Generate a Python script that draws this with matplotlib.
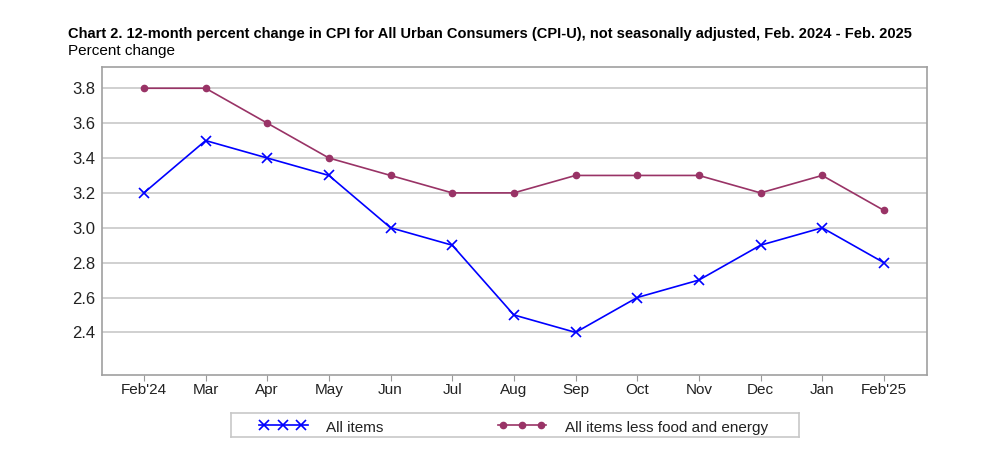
import matplotlib.pyplot as plt
from matplotlib.lines import Line2D

months = ["Feb'24", 'Mar', 'Apr', 'May', 'Jun', 'Jul', 'Aug', 'Sep', 'Oct',
          'Nov', 'Dec', 'Jan', "Feb'25"]
all_items = [3.2, 3.5, 3.4, 3.3, 3.0, 2.9, 2.5, 2.4, 2.6, 2.7, 2.9, 3.0, 2.8]
core = [3.8, 3.8, 3.6, 3.4, 3.3, 3.2, 3.2, 3.3, 3.3, 3.3, 3.2, 3.3, 3.1]
yticks = [2.4, 2.6, 2.8, 3.0, 3.2, 3.4, 3.6, 3.8]

plt.rcParams['font.family'] = ['Liberation Sans', 'DejaVu Sans']

blue = '#0000ff'
maroon = '#993366'

fig = plt.figure(figsize=(10, 4.75), dpi=100)
ax = fig.add_axes([0.102, 0.211, 0.825, 0.648])

x = range(len(months))
ax.plot(x, all_items, color=blue, lw=1.2, marker='x', ms=7, mew=1.2)
ax.plot(x, core, color=maroon, lw=1.2, marker='o', ms=4.5)

ax.set_xlim(-0.68, 12.7)
ax.set_ylim(2.157, 3.922)
ax.set_xticks(list(x))
ax.set_xticklabels(months)
ax.set_yticks(yticks)
ax.set_yticklabels([f'{v:.1f}' for v in yticks])
ax.grid(axis='y', color='#c8c8c8', lw=1.2)
ax.set_axisbelow(True)
ax.tick_params(axis='y', length=0, labelsize=12, pad=5, colors='#222222')
ax.tick_params(axis='x', length=4, color='#999999', labelsize=11, pad=2,
               labelcolor='#222222')
for s in ax.spines.values():
    s.set_color('#a0a0a0')
    s.set_linewidth(1.2)

fig.text(0.068, 0.929, 'Chart 2. 12-month percent change in CPI for All Urban '
         'Consumers (CPI-U), not seasonally adjusted, Feb. 2024 - Feb. 2025',
         fontsize=10.5, fontweight='bold', va='center')
fig.text(0.068, 0.892, 'Percent change', fontsize=11, va='center')

# legend box drawn as a separate axes frame
lax = fig.add_axes([0.231, 0.08, 0.568, 0.051])
lax.set_xlim(0, 568)
lax.set_ylim(0, 24)
lax.set_xticks([])
lax.set_yticks([])
for s in lax.spines.values():
    s.set_color('#c8c8c8')
    s.set_linewidth(1.2)
lax.add_line(Line2D([28, 77], [12, 12], color=blue, lw=1.2))
lax.plot([33, 52, 70], [12, 12, 12], ls='none', marker='x', color=blue,
         ms=7, mew=1.2)
lax.text(95, 8.5, 'All items', fontsize=11, va='center', color='#222222')
lax.add_line(Line2D([267, 315], [12, 12], color=maroon, lw=1.2))
lax.plot([272, 291, 310], [12, 12, 12], ls='none', marker='o', color=maroon,
         ms=4.5)
lax.text(334, 8.5, 'All items less food and energy', fontsize=11,
         va='center', color='#222222')

fig.savefig('out.png', dpi=100)
